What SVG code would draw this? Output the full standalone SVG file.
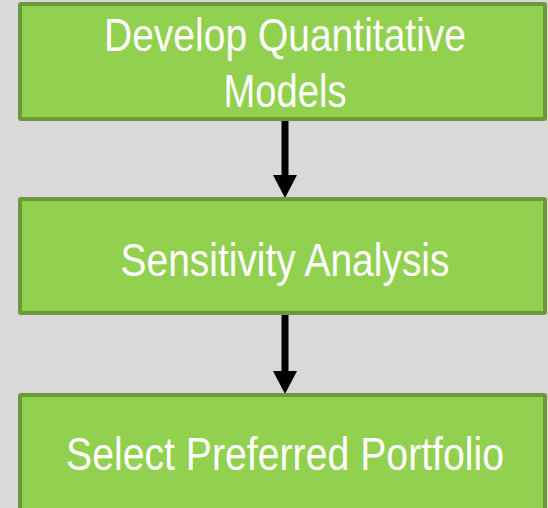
<svg xmlns="http://www.w3.org/2000/svg" width="548" height="508" viewBox="0 0 548 508">
<defs>
<style>
.box{fill:#92d050;stroke:#6b9a3a;stroke-width:4}
.lbl{fill:#ffffff;font-family:"Liberation Sans Narrow","Liberation Sans",Arial,sans-serif;font-size:46px;text-anchor:middle}
.conn{stroke:#000000;stroke-width:7;fill:none}
</style>
<marker id="ah" markerUnits="userSpaceOnUse" markerWidth="24" markerHeight="24" viewBox="0 0 23 24" refX="1" refY="12" orient="auto">
<path d="M0,0 L23,12 L0,24 Z" fill="#000000"/>
</marker>
</defs>
<rect width="548" height="508" fill="#d9d9d9"/>
<g id="connectors">
<line class="conn" x1="285" y1="121" x2="285" y2="176" marker-end="url(#ah)"/>
<line class="conn" x1="285" y1="315" x2="285" y2="372" marker-end="url(#ah)"/>
</g>
<g id="node1">
<rect class="box" x="20" y="4" width="525" height="115" rx="1"/>
<text class="lbl" x="285" y="51" textLength="362" lengthAdjust="spacingAndGlyphs">Develop Quantitative</text>
<text class="lbl" x="285" y="107" textLength="123" lengthAdjust="spacingAndGlyphs">Models</text>
</g>
<g id="node2">
<rect class="box" x="20" y="199" width="525" height="114" rx="1"/>
<text class="lbl" x="285" y="276" textLength="329" lengthAdjust="spacingAndGlyphs">Sensitivity Analysis</text>
</g>
<g id="node3">
<rect class="box" x="20" y="395" width="525" height="125" rx="1"/>
<text class="lbl" x="285" y="470" textLength="438" lengthAdjust="spacingAndGlyphs">Select Preferred Portfolio</text>
</g>
</svg>
